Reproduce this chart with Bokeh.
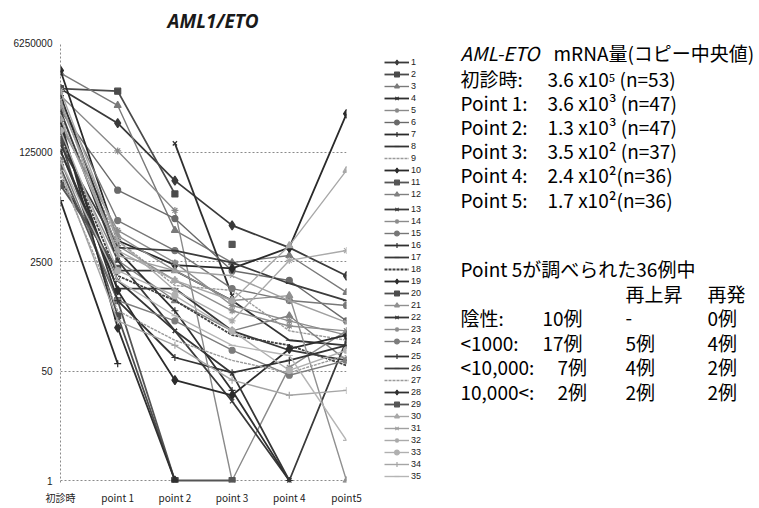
import numpy as np
from bokeh.plotting import figure
from bokeh.layouts import row
from bokeh.models import Range1d, FixedTicker, NumeralTickFormatter, Label, Legend
from bokeh.embed import file_html
from bokeh.resources import INLINE

# ---------------- data ----------------
categories = ["初診時", "point 1", "point 2", "point 3", "point 4", "point5"]
y_ticks = [1, 50, 2500, 125000, 6250000]
series_names = [str(i) for i in range(1, 36)]
N = None

s01 = [1.2e6, 3.5e5, 4.5e4, 9.1e3, 4.1e3, 1.5e3]
s02 = [1.2e6, 1.1e6, 2.8e4, N, N, N]
s03 = [2.1e6, 6.6e5, 7.6e3, 2.4e3, 3.1e3, 830]
s04 = [N, N, 1.7e5, 740, N, N]
s05 = [9.4e5, 1.3e5, 1.55e4, 1, 57, 210]
s06 = [5.5e5, 3.2e4, 1.16e4, 1.8e3, 1.27e3, 300]
s07 = [2.2e4, 65, N, N, N, N]
s08 = [4.5e4, 1.8e3, 1.8e3, 620, 150, 125]
s09 = [4.6e5, 5.3e3, 1.06e3, 890, 210, 150]
s10 = [2.3e6, 5.3e3, 2.2e3, 1.95e3, 4.1e3, 4.9e5]
s11 = [7.2e4, 620, 1, 1, N, N]
s12 = [1.9e5, 2.6e3, 620, 210, 360, 73]
s13 = [5.5e5, 2.6e3, 210, 17, 1, 150]
s14 = [3.2e5, 7.6e3, 2.4e3, 520, 300, 180]
s15 = [7.9e5, 1.08e4, 3.7e3, 950, 620, 520]
s16 = [9.4e5, 3.7e3, 430, 25, 1, N]
s17 = [1.3e5, 950, 950, 210, 105, 73]
s18 = [2.25e5, 1.5e3, 620, 180, 125, 61]
s19 = [2.7e5, 890, 36, 21, 110, 180]
s20 = [1.9e5, 360, 1, N, N, N]
s21 = [6.6e5, 6.3e3, 1.8e3, 620, 740, 1]
s22 = [1.3e5, 1.27e3, 210, 46, 1, N]
s23 = [3.85e5, 4.4e3, 1.27e3, 430, 250, 210]
s24 = [9.2e4, 620, 300, 105, 43, 73]
s25 = [3.2e5, 620, 81, 47, 73, 125]
s26 = [1.6e5, 4.1e3, 3.7e3, 2.4e3, 1.14e3, 620]
s27 = [5.4e4, 430, 150, 73, 47, 87]
s28 = [3.85e5, 235, 1, N, N, N]
s29 = [3.8e4, 1.95e3, N, 4.6e3, N, N]
s30 = [4.1e5, 3.7e3, 1.27e3, 620, 4.4e3, 6.5e4]
s31 = [7.9e5, 3.1e3, 1.8e3, 1.5e3, 620, 285]
s32 = [1.12e6, 5.3e3, 890, 300, 2.6e3, 3.7e3]
s33 = [2.7e5, 1.8e3, 740, 210, 51, 105]
s34 = [6.5e4, 300, 125, 36, 21, 25]
s35 = [9.2e4, 1.27e3, 360, 125, 87, 4.2]

series = [s01, s02, s03, s04, s05, s06, s07, s08, s09, s10, s11, s12, s13, s14, s15,
          s16, s17, s18, s19, s20, s21, s22, s23, s24, s25, s26, s27, s28, s29, s30,
          s31, s32, s33, s34, s35]

median_rows = ["初診時:", "Point 1:", "Point 2:", "Point 3:", "Point 4:", "Point 5:"]
median_vals = ["3.6 x10⁵  (n=53)", "3.6 x10³ (n=47)", "1.3 x10³  (n=47)",
               "3.5 x10² (n=37)", "2.4 x10²(n=36)", "1.7 x10²(n=36)"]
table_title = "Point 5が調べられた36例中"
table_heads = ["再上昇", "再発"]
table_rows = ["陰性:", "<1000:", "<10,000:", "10,000<:"]
table_counts = ["10例", "17例", "7例", "2例"]
table_rise = ["-", "5例", "4例", "2例"]
table_relapse = ["0例", "4例", "2例", "2例"]

# ---------------- styles ----------------
markers = ["diamond", "square", "triangle", "x", "asterisk", "circle", "cross", "dash", None]
msizes = {"diamond": 9, "square": 6, "triangle": 7, "x": 6, "asterisk": 7,
          "circle": 6, "cross": 7, "dash": 7}
colors = ["#3a3a3a", "#4a4a4a", "#7a7a7a", "#2f2f2f", "#8a8a8a", "#6a6a6a", "#2a2a2a", "#333333", "#9a9a9a",
          "#2a2a2a", "#555555", "#808080", "#3a3a3a", "#8c8c8c", "#777777", "#303030", "#383838", "#404040",
          "#2c2c2c", "#4c4c4c", "#909090", "#363636", "#8e8e8e", "#7c7c7c", "#343434", "#3c3c3c", "#9a9a9a",
          "#303030", "#555555", "#a8a8a8", "#a0a0a0", "#aaaaaa", "#b0b0b0", "#a5a5a5", "#b5b5b5"]


def style_of(i):
    c = colors[i]
    m = markers[i % 9]
    lw = 1.8 if int(c[1:3], 16) < 0x60 else 1.4
    dash = "3 1" if m is None else "solid"
    return c, m, lw, dash


TOP, BOT = 42, 26          # borders shared by both panels
WA = 372                   # width of the chart panel
p = figure(width=WA, height=508, output_backend="svg", toolbar_location=None,
           y_axis_type="log",
           x_range=Range1d(0, 5), y_range=Range1d(50 ** (-2 / 109.5), 6250000),
           min_border_left=60, min_border_right=WA - 60 - 286, min_border_top=TOP,
           min_border_bottom=BOT)
p.outline_line_color = None

p.title.text = "AML1/ETO"
p.title.align = "left"
p.title.offset = 107
p.title.vertical_align = "top"
p.title.text_font = "Open Sans"
p.title.text_font_style = "bold italic"
p.title.text_font_size = "19px"
p.title.text_color = "#1a1a1a"
p.title.standoff = 14

xs = list(range(len(categories)))
for i, vals in enumerate(series):
    ys = np.array([np.nan if v is None else v for v in vals], dtype=float)
    c, m, lw, dash = style_of(i)
    p.line(xs, ys, line_color=c, line_width=lw, line_dash=dash)
    if m is not None:
        p.scatter(xs, ys, marker=m, size=msizes[m], fill_color=c, line_color=c, line_width=1.2)

# axes
p.xaxis.ticker = FixedTicker(ticks=xs)
p.xaxis.major_label_overrides = {i: c for i, c in enumerate(categories)}
p.xaxis.axis_line_color = None
p.xaxis.major_tick_line_color = None
p.xaxis.minor_tick_line_color = None
p.xaxis.major_tick_out = 0
p.xaxis.major_tick_in = 0
p.xaxis.minor_tick_out = 0
p.xaxis.major_label_standoff = 7
p.xaxis.major_label_text_font = "Noto Sans CJK JP"
p.xaxis.major_label_text_font_size = "10px"
p.xaxis.major_label_text_color = "#222222"

p.yaxis.ticker = FixedTicker(ticks=y_ticks)
p.yaxis.formatter = NumeralTickFormatter(format="0")
p.yaxis.axis_line_color = "#8a8a8a"
p.yaxis.axis_line_dash = "2 2"
p.yaxis.major_tick_line_color = None
p.yaxis.minor_tick_line_color = None
p.yaxis.major_tick_out = 0
p.yaxis.major_tick_in = 0
p.yaxis.minor_tick_out = 0
p.yaxis.major_label_standoff = 8
p.yaxis.major_label_text_font = "Liberation Sans"
p.yaxis.major_label_text_font_size = "10px"
p.yaxis.major_label_text_color = "#222222"

p.xgrid.visible = False
p.ygrid.ticker = FixedTicker(ticks=y_ticks)
p.ygrid.grid_line_color = "#8a8a8a"
p.ygrid.grid_line_dash = "2 2"
p.ygrid.grid_line_width = 1

# ---------------- legend + text panel ----------------
FB = 508 - BOT   # page y of frame bottom
q = figure(width=759 - WA, height=508, output_backend="svg", toolbar_location=None,
           x_range=Range1d(WA, 759), y_range=Range1d(FB, TOP),
           x_axis_location=None, y_axis_location=None,
           min_border_left=0, min_border_right=0, min_border_top=TOP, min_border_bottom=BOT)
q.outline_line_color = None
q.xgrid.visible = False
q.ygrid.visible = False

items = []
for i, name in enumerate(series_names):
    c, m, lw, dash = style_of(i)
    rs = [q.line(x=[np.nan], y=[np.nan], line_color=c, line_width=lw, line_dash=dash)]
    if m is not None:
        rs.append(q.scatter(x=[np.nan], y=[np.nan], marker=m, size=msizes[m], fill_color=c,
                            line_color=c, line_width=1.2))
    items.append((name, rs))

# legend split in three stacks so that the row pitch (12.27px) is matched closely
LEG_Y0, LEG_PITCH, LEG_ROW = 62, 12.27, 12
for start, stop in [(0, 12), (12, 24), (24, 35)]:
    first_center = LEG_Y0 + start * LEG_PITCH
    bottom = first_center - LEG_ROW / 2 + LEG_ROW * (stop - start)
    lg = Legend(items=items[start:stop], location=(384 - WA, int(round(FB - bottom))),
                spacing=0, padding=0, margin=0,
                glyph_width=25, glyph_height=LEG_ROW, label_height=LEG_ROW, label_standoff=2,
                label_text_font="Liberation Sans", label_text_font_size="9px",
                label_text_color="#222222", border_line_color=None, background_fill_alpha=0)
    q.add_layout(lg, "center")


def add_text(px, py, text, size="19px", style="normal"):
    q.add_layout(Label(x=px, y=py, text=text, text_font="Noto Sans CJK JP",
                       text_font_size=size, text_font_style=style,
                       text_color="#000000", text_align="left", text_baseline="middle"))


add_text(460, 52, "AML-ETO", style="italic")
add_text(553, 52, "mRNA量(コピー中央値)")
for k, (r, v) in enumerate(zip(median_rows, median_vals)):
    yy = 78 + k * 24.1
    add_text(460, yy, r)
    add_text(547, yy, v)

add_text(460, 268, table_title)
add_text(625, 293, table_heads[0])
add_text(707, 293, table_heads[1])
for k in range(len(table_rows)):
    yy = 317 + k * 24.5
    add_text(460, yy, table_rows[k])
    add_text(542 if k < 2 else 557, yy, table_counts[k])
    add_text(625, yy, table_rise[k])
    add_text(707, yy, table_relapse[k])

open("out.html", "w").write(file_html(row(p, q), INLINE))
